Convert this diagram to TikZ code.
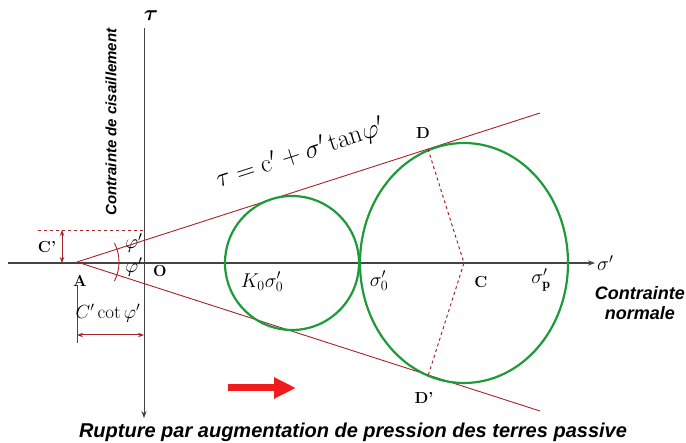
\RequirePackage{fix-cm}
\documentclass[tikz,border=0pt]{standalone}
\usepackage{fontspec}
\setsansfont{Liberation Sans}
\usepackage{amsmath,amssymb,bm}
\usetikzlibrary{arrows.meta,positioning,calc}
\definecolor{envred}{HTML}{A3232A}
\definecolor{mohr}{HTML}{1E9A3A}
\definecolor{axisgray}{HTML}{444444}
\definecolor{pushred}{HTML}{EE1C1C}
\tikzset{
  ax/.style={draw=axisgray, line width=1.2pt},
  env/.style={draw=envred, line width=0.9pt},
  circ/.style={draw=mohr, line width=2.2pt},
  rad/.style={draw=envred, dashed, line width=1pt},
  dimarr/.style={{Stealth[length=6pt]}-{Stealth[length=6pt]}, draw=envred, line width=1pt},
  pt/.style={font=\bfseries\fontsize{16}{16}\selectfont, inner sep=1pt},
  lab/.style={font=\fontsize{20}{20}\selectfont, inner sep=1pt},
  captxt/.style={font=\sffamily\bfseries\itshape\fontsize{18}{20}\selectfont, align=center, inner sep=1pt},
}

\begin{document}
\begin{tikzpicture}[x=1pt, y=-1pt]
    \useasboundingbox (0,0) rectangle (686,443);
    \coordinate (A) at (77,262);
    \coordinate (sl) at (8,263);
    \coordinate (sr) at (595,263);
    \coordinate (tt) at (144,28);
    \coordinate (tb) at (144,418);
    \coordinate (up) at (540,113);
    \coordinate (lo) at (540,411);
    \coordinate (C) at (464,263);
    \coordinate (D) at (428,149);
    \coordinate (Dp) at (428,376);
    \draw[ax, -{Stealth[length=7pt]}] (sl) -- (sr);
    \draw[ax, line width=1pt, -{Stealth[length=7pt]}] (tt) -- (tb);
    \draw[env] (A) -- (up);
    \draw[env] (A) -- (lo);
    \draw[circ] (292,263) circle [radius=67];
    \draw[circ] (C) ellipse [x radius=104, y radius=120];
    \draw[rad] (D) -- (C) -- (Dp);
    \draw[env, dashed] (38,230) coordinate (c1) -- (144,230) coordinate (c2);
    \draw[dimarr] (62,230) coordinate (c3) -- (62,263) coordinate (c4);
    \draw[env] (A) ++(-27:42) arc (-27:27:42);
    \draw[env] (77,285) coordinate (k1) -- (77,343) coordinate (k2);
    \draw[dimarr] (77,335) coordinate (k3) -- (144,335) coordinate (k4);
    \draw[pushred, line width=7pt, -{Triangle[length=22pt, width=20pt]}] (228,388) coordinate (p1) -- (296,388) coordinate (p2);
    \node[font=\fontsize{22}{22}\selectfont] (tau) at (151,16) {$\bm{\tau}$};
    \node[lab, right=1pt of sr] (sig) {$\sigma'$};
    \node[captxt, anchor=east] (norm) at (686,303) {Contrainte\\normale};
    \node[captxt, font=\sffamily\bfseries\itshape\fontsize{15}{15}\selectfont, rotate=90] (cis) at (111,122) {Contrainte de cisaillement};
    \node[pt] (lA) at (80,281) {A};
    \node[pt] (lO) at (160,271) {O};
    \node[pt] (lC) at (481,282) {C};
    \node[pt] (lD) at (423,133) {D};
    \node[pt] (lDp) at (424,398) {D'};
    \node[pt] (lCp) at (47,247) {C'};
    \node[lab] (K) at (262,282) {$K_0\sigma'_0$};
    \node[lab] (s0) at (379,281) {$\sigma'_0$};
    \node[lab] (sp) at (541,280) {$\sigma'_{\mathbf{p}}$};
    \node[lab] (ph1) at (134,243) {$\varphi'$};
    \node[lab] (ph2) at (134,267) {$\varphi'$};
    \node[lab, font=\fontsize{19}{19}\selectfont] (cot) at (108,313) {$C'\cot\varphi'$};
    \node[lab, font=\fontsize{26}{26}\selectfont, rotate=17.8] (eq) at (300,154) {$\tau = \mathrm{c}' + \sigma'\,\mathrm{tan}\varphi'$};
    \node[captxt, font=\sffamily\bfseries\itshape\fontsize{20}{20}\selectfont] (rup) at (353,432) {Rupture par augmentation de pression des terres passive};
  \end{tikzpicture}
\end{document}
